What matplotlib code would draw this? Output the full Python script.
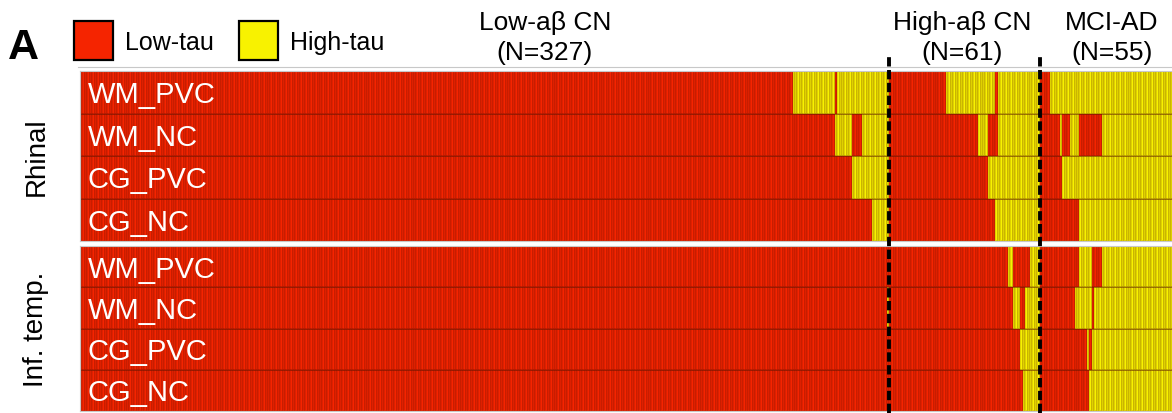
import numpy as np
import matplotlib.pyplot as plt
from matplotlib.colors import ListedColormap
from matplotlib.patches import Rectangle
from matplotlib.lines import Line2D
import matplotlib.transforms as mtransforms

plt.rcParams['font.family'] = ['Liberation Sans', 'DejaVu Sans']

# subject groups (columns)
groups = ['Low-aβ CN\n(N=327)', 'High-aβ CN\n(N=61)', 'MCI-AD\n(N=55)']
group_sizes = [327, 61, 55]
row_names = ['WM_PVC', 'WM_NC', 'CG_PVC', 'CG_NC']
panel_names = ['Rhinal', 'Inf. temp.']

# high-tau runs per row (start, stop) in subject index, everything else is low-tau
rhinal_high = [
    [(288, 305), (306, 327), (350, 370), (371, 388), (392, 443)],
    [(305, 312), (316, 327), (363, 367), (371, 388), (396, 397), (400, 404), (413, 443)],
    [(312, 327), (367, 388), (397, 443)],
    [(320, 327), (370, 388), (404, 443)],
]
inftemp_high = [
    [(375, 377), (384, 388), (404, 409), (413, 443)],
    [(326, 327), (377, 380), (382, 388), (402, 409), (410, 443)],
    [(380, 388), (407, 408), (409, 443)],
    [(381, 388), (408, 443)],
]

red = '#F52400'
yellow = '#F8F200'
n_sub = sum(group_sizes)


def to_matrix(runs):
    m = np.zeros((len(runs), n_sub))
    for i, row in enumerate(runs):
        for a, b in row:
            m[i, a:b] = 1
    return m


W, H = 1172, 414
fig = plt.figure(figsize=(W / 100, H / 100), dpi=100)
left = 80 / W
width = n_sub * 2.474 / W
ax1 = fig.add_axes([left, 1 - 242 / H, width, 170 / H])
ax2 = fig.add_axes([left, 1 - 412 / H, width, 165 / H])

cmap = ListedColormap([red, yellow])
for ax, runs, pname in [(ax1, rhinal_high, panel_names[0]), (ax2, inftemp_high, panel_names[1])]:
    m = to_matrix(runs)
    ax.pcolormesh(m, cmap=cmap, vmin=0, vmax=1, edgecolors=(0.3, 0.05, 0, 0.14), linewidth=0.3)
    for y in range(1, len(row_names)):
        ax.axhline(y, color=(0.35, 0.08, 0, 0.5), lw=0.7)
    ax.set_xlim(0, n_sub)
    ax.set_ylim(len(row_names), 0)
    ax.set_xticks([])
    ax.set_yticks([])
    for s in ax.spines.values():
        s.set_color('#C8C8C8')
        s.set_linewidth(0.8)
    for i, name in enumerate(row_names):
        ax.text(3, i + 0.55, name, color='white', fontsize=21, va='center', ha='left')
    ax.text(-0.028, 0.5, pname, transform=ax.transAxes, rotation=90,
            fontsize=20, va='center', ha='right')

# grey rule above the top panel
fig.add_artist(Line2D([78 / W, 1], [1 - 68 / H, 1 - 68 / H], color='#C8C8C8', lw=0.8))

# group dividers
trans = mtransforms.blended_transform_factory(ax1.transData, fig.transFigure)
bounds = np.cumsum(group_sizes)[:-1]
for b in bounds:
    fig.add_artist(Line2D([b, b], [0, 1 - 58 / H], transform=trans, color='black',
                          lw=2.8, linestyle=(0, (2.4, 0.9))))

# group headers
header_x = [545, 962, 1112]
for g, hx in zip(groups, header_x):
    l1, l2 = g.split('\n')
    fig.text(hx / W, 1 - 23 / H, l1, ha='center', va='center', fontsize=19)
    fig.text(hx / W, 1 - 53 / H, l2, ha='center', va='center', fontsize=19)

# legend
for x0, col, lab in [(74, red, 'Low-tau'), (239, yellow, 'High-tau')]:
    fig.add_artist(Rectangle((x0 / W, 1 - 61 / H), 39 / W, 39 / H, transform=fig.transFigure,
                             facecolor=col, edgecolor='black', lw=1.6))
    fig.text((x0 + 51) / W, 1 - 43 / H, lab, fontsize=18, va='center', ha='left')

fig.text(8 / W, 1 - 48 / H, 'A', fontsize=31, fontweight='bold', va='center', ha='left')

fig.savefig('out.png', dpi=100)
